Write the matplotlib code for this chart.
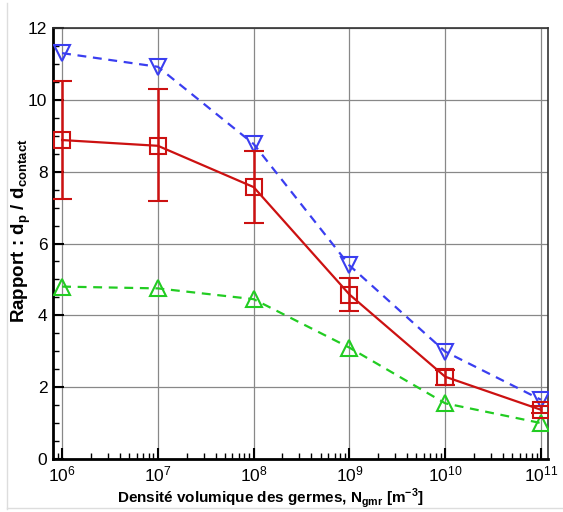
import numpy as np
import matplotlib
matplotlib.use("Agg")
import matplotlib.pyplot as plt
from matplotlib.ticker import LogLocator, MultipleLocator, NullFormatter
from matplotlib.lines import Line2D

plt.rcParams['font.family'] = ['Liberation Sans', 'DejaVu Sans']
plt.rcParams['mathtext.fontset'] = 'custom'
plt.rcParams['mathtext.rm'] = 'Liberation Sans'
plt.rcParams['mathtext.bf'] = 'Liberation Sans:bold'

# germ density (m^-3)
N_gmr = [1e6, 1e7, 1e8, 1e9, 1e10, 1e11]

# ratio d_p / d_contact
blue_vals = [11.3, 10.92, 8.77, 5.39, 2.99, 1.65]
red_vals = [8.88, 8.72, 7.57, 4.58, 2.29, 1.37]
red_err_low = [1.65, 1.55, 1.0, 0.45, 0.22, 0.1]
red_err_high = [1.65, 1.58, 1.0, 0.45, 0.2, 0.1]
green_vals = [4.8, 4.75, 4.45, 3.1, 1.55, 1.0]

fig = plt.figure(figsize=(5.63, 5.12), dpi=100)
ax = fig.add_axes([53/563, 1 - 459/512, (548-53)/563, (459-28)/512])

ax.plot(N_gmr, blue_vals, color='#3a3ef0', ls=(0, (4, 3)), lw=1.6,
        marker='v', ms=12, mfc='none', mec='#3a3ef0', mew=1.5, zorder=3)
ax.errorbar(N_gmr, red_vals, yerr=[red_err_low, red_err_high], color='#cc1111',
            lw=1.6, marker='s', ms=11, mfc='none', mec='#cc1111', mew=1.5,
            capsize=7, capthick=1.8, elinewidth=1.8, zorder=4)
ax.plot(N_gmr, green_vals, color='#22cc22', ls=(0, (4, 3)), lw=1.6,
        marker='^', ms=12, mfc='none', mec='#22cc22', mew=1.5, zorder=3)

ax.set_xscale('log')
ax.set_xlim(10**5.905, 10**11.073)
ax.set_ylim(0, 12)

ax.xaxis.set_major_locator(LogLocator(base=10, numticks=10))
ax.xaxis.set_minor_locator(LogLocator(base=10, subs=np.arange(2, 10), numticks=20))
ax.xaxis.set_minor_formatter(NullFormatter())
ax.yaxis.set_major_locator(MultipleLocator(2))
ax.yaxis.set_minor_locator(MultipleLocator(0.5))

ax.grid(True, which='major', color='#888888', lw=0.9)
ax.set_axisbelow(True)
ax.tick_params(which='both', direction='in', top=False, right=False, labelsize=12.5)
ax.tick_params(which='major', length=8, width=1.5, pad=4)
ax.tick_params(which='minor', length=4, width=1)
for side in ['left', 'bottom']:
    ax.spines[side].set_linewidth(2)
for side in ['top', 'right']:
    ax.spines[side].set_linewidth(1.2)
    ax.spines[side].set_color('#333333')

ax.set_xlabel(r'Densité volumique des germes, N$_{\mathbf{gmr}}$ [m$^{\mathbf{-3}}$]',
              fontsize=11, fontweight='bold')
ax.xaxis.set_label_coords(0.44, -0.064)
ax.set_ylabel(r'Rapport : d$_{\mathbf{p}}$ / d$_{\mathbf{contact}}$',
              fontsize=13.5, fontweight='bold')
ax.yaxis.set_label_coords(-0.04, 0.53)

# faint outer frame of the original picture
fig.add_artist(Line2D([7/563, 7/563], [3/512, 1 - 3/512], color='#dddddd', lw=1))
fig.add_artist(Line2D([7/563, 1], [4/512, 4/512], color='#dddddd', lw=1))

fig.savefig('out.png', dpi=100)
